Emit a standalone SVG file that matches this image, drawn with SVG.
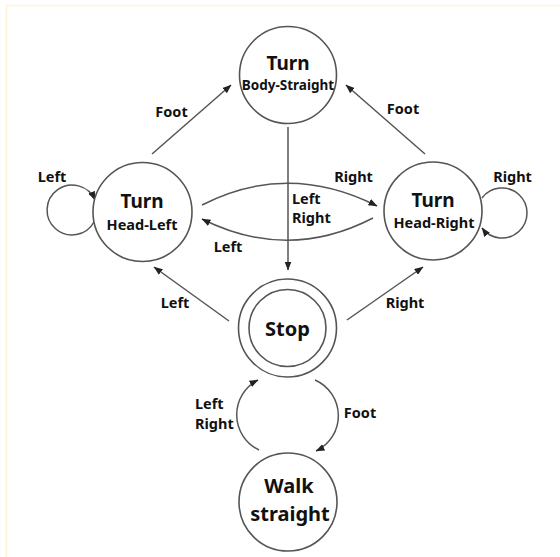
<svg xmlns="http://www.w3.org/2000/svg" width="560" height="557" viewBox="0 0 560 557">
<defs>
<marker id="ah" markerWidth="9" markerHeight="7" refX="8.5" refY="3.5" orient="auto" markerUnits="userSpaceOnUse">
<path d="M0,0 L9,3.5 L0,7 z" fill="#222"/>
</marker>
<style>
.node{fill:#fff;stroke:#555;stroke-width:1.6}
.edge{fill:none;stroke:#555;stroke-width:1.5;marker-end:url(#ah)}
text{font-family:"Noto Sans","Open Sans","DejaVu Sans",sans-serif;font-weight:bold;fill:#111}
.nt{text-anchor:middle}
.t1{font-size:19px}
.t2{font-size:14.5px}
.big{font-size:20px;text-anchor:middle}
.lbl{font-size:14.5px}
.c{text-anchor:middle}
</style>
</defs>
<rect x="0" y="0" width="560" height="557" fill="#fff"/>
<rect x="6.5" y="5.5" width="600" height="600" fill="none" stroke="#fdf3d8" stroke-width="1.5"/>
<g id="connectors">
<line class="edge" x1="152" y1="154" x2="231" y2="85"/>
<line class="edge" x1="425" y1="154" x2="346" y2="85"/>
<line class="edge" x1="288" y1="127" x2="288" y2="270"/>
<path class="edge" d="M202,205 Q288,161 377,206"/>
<path class="edge" d="M373,218 Q288,262 202,219"/>
<line class="edge" x1="229" y1="321" x2="154" y2="267"/>
<line class="edge" x1="347" y1="320" x2="423" y2="267"/>
<path class="edge" d="M315,380 A39,39 0 0 1 316,451"/>
<path class="edge" d="M259,450 A39,39 0 0 1 258,380"/>
<path class="edge" d="M94,222 A25,25 0 1 1 95,200"/>
<path class="edge" d="M482,198 A25,25 0 1 1 482,228"/>
<text class="lbl c" x="171.5" y="117">Foot</text>
<text class="lbl c" x="403" y="114">Foot</text>
<text class="lbl c" x="52" y="182">Left</text>
<text class="lbl c" x="512.5" y="182">Right</text>
<text class="lbl c" x="353.5" y="182">Right</text>
<text class="lbl" x="292" y="204">Left<tspan x="292" y="223">Right</tspan></text>
<text class="lbl c" x="228" y="252">Left</text>
<text class="lbl c" x="175" y="308">Left</text>
<text class="lbl c" x="405" y="308">Right</text>
<text class="lbl" x="195" y="409">Left<tspan x="195" y="429">Right</tspan></text>
<text class="lbl c" x="360" y="418">Foot</text>
</g>
<g id="turn-body-straight">
<circle class="node" cx="288" cy="75" r="48.5"/>
<text class="nt"><tspan class="t1" x="288" y="70">Turn</tspan><tspan x="288" y="90" style="font-size:13.5px">Body-Straight</tspan></text>
</g>
<g id="turn-head-left">
<circle class="node" cx="142.5" cy="212" r="49.5"/>
<text class="nt"><tspan class="t1" x="142" y="208">Turn</tspan><tspan class="t2" x="142" y="230">Head-Left</tspan></text>
</g>
<g id="turn-head-right">
<circle class="node" cx="433" cy="211" r="49"/>
<text class="nt"><tspan class="t1" x="433" y="207">Turn</tspan><tspan class="t2" x="434" y="228">Head-Right</tspan></text>
</g>
<g id="stop">
<circle class="node" cx="287.5" cy="328" r="49"/>
<circle class="node" cx="287.5" cy="328" r="38.5"/>
<text class="big" x="287.5" y="336">Stop</text>
</g>
<g id="walk-straight">
<circle class="node" cx="288" cy="502" r="49"/>
<text class="big"><tspan x="289" y="493">Walk</tspan><tspan x="290" y="521">straight</tspan></text>
</g>
</svg>
